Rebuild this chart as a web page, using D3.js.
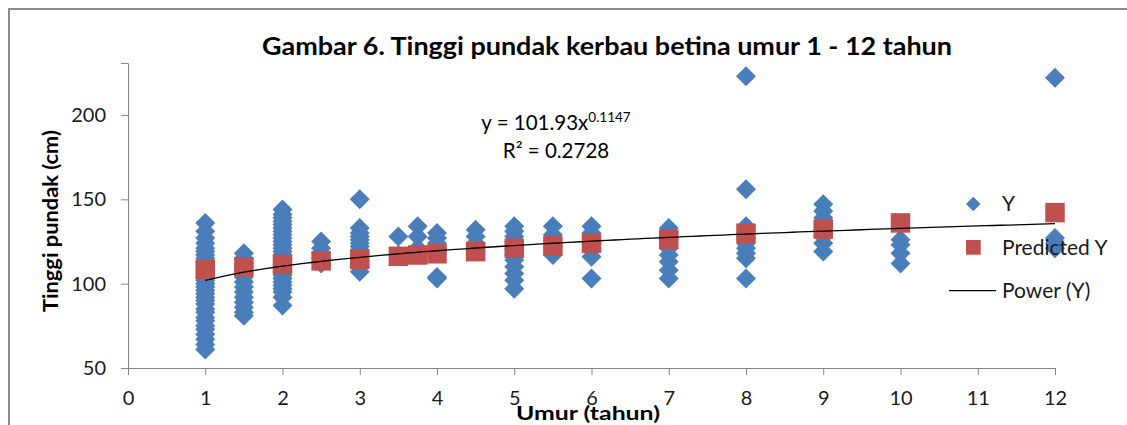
<!DOCTYPE html>
<html>
<head>
<meta charset="utf-8">
<script src="https://cdn.jsdelivr.net/npm/d3@7/dist/d3.min.js"></script>
<style>
  html, body { margin: 0; padding: 0; background: #fff; }
  svg { display: block; font-family: Lato, "Open Sans", sans-serif; }
</style>
</head>
<body>
<svg id="chart" width="1127" height="425"></svg>
<script>
// ---- data ----
const ages = [1, 1.5, 2, 2.5, 3, 3.5, 3.75, 4, 4.5, 5, 5.5, 6, 7, 8, 9, 10, 12];
const observedY = [
  [136,131,127,124,121,119,117,115,113,110,108,106,104,102,100,98,96,94,92,90,88,85,83,80,78,75,73,70,67,64,61],
  [118,115,112,110,107,104,101,98,95,92,89,86,83,81],
  [144,141,139,137,135,133,131,129,127,125,123,121,119,117,115,113,111,109,107,105,103,101,99,97,95,92,87],
  [125,121,118,115,112],
  [150,133,130,128,126,124,122,120,118,116,113,110,107],
  [128,117],
  [134,128,121],
  [130,127,124,121,118,104,103],
  [132,128,124,119],
  [134,131,128,125,121,117,114,110,106,102,97],
  [134,129,122,117],
  [134,130,127,124,120,116,103],
  [133,130,126,121,117,113,108,103],
  [223,156,134,130,127,124,121,118,115,103],
  [147,143,139,132,128,124,119],
  [126,123,118,112],
  [222,127,124,121]
];
const predictedY = [108.5,110,111.4,113.5,114.5,116.2,117,117.7,119,121,122.4,124,126.3,129.9,132.4,136,142.1];
const trendA = 101.93, trendB = 0.1147;   // from the chart's equation label
const xTicks = [0,1,2,3,4,5,6,7,8,9,10,11,12];
const yTicks = [50,100,150,200];
const titleText = "Gambar 6. Tinggi pundak kerbau betina umur 1 - 12 tahun";
const xLabel = "Umur (tahun)";
const yLabel = "Tinggi pundak (cm)";
const legendLabels = ["Y", "Predicted Y", "Power (Y)"];

// ---- drawing ----
const svg = d3.select("#chart");
const blue = "#4A7EBB", red = "#C0504D", axisCol = "#868686";

const x = d3.scaleLinear().domain([0, 12]).range([128, 1055]);
const y = d3.scaleLinear().domain([50, 230.8]).range([368, 63]);

// frame
svg.append("rect").attr("x", 9).attr("y", 9).attr("width", 1140).attr("height", 440)
  .attr("fill", "none").attr("stroke", "#8c8c8c").attr("stroke-width", 2);

// axes
const xAxis = d3.axisBottom(x).tickValues(xTicks).tickSize(7).tickPadding(16).tickFormat(d3.format("d"));
const gx = svg.append("g").attr("transform", `translate(0,${y(50)})`).call(xAxis);
const yAxis = d3.axisLeft(y).tickValues(yTicks).tickSize(7).tickPadding(15).tickFormat(d3.format("d"));
const gy = svg.append("g").attr("transform", `translate(${x(0)},0)`).call(yAxis);
[gx, gy].forEach(g => {
  g.select(".domain").attr("stroke", axisCol);
  g.selectAll(".tick line").attr("stroke", axisCol);
  g.selectAll(".tick text").attr("fill", "#1a1a1a").style("font-size", "20px").style("font-family", "Lato");
});
gx.selectAll(".tick text").attr("dy", "0.71em");

// observed diamonds
const pts = [];
ages.forEach((a, i) => observedY[i].forEach(v => pts.push({a, v})));
const dh = 10;
const diamond = `M0,${-dh}L${dh},0L0,${dh}L${-dh},0Z`;
svg.append("g").selectAll("path").data(pts).join("path")
  .attr("d", diamond)
  .attr("transform", d => `translate(${x(d.a)},${y(d.v)})`)
  .attr("fill", blue);

// predicted squares
const sq = 19.5;
svg.append("g").selectAll("rect").data(ages.map((a, i) => ({a, v: predictedY[i]}))).join("rect")
  .attr("x", d => x(d.a) - sq / 2).attr("y", d => y(d.v) - sq / 2)
  .attr("width", sq).attr("height", sq).attr("fill", red);

// power trendline
const trendX = d3.range(1, 12.0001, 0.1);
const line = d3.line().x(d => x(d)).y(d => y(trendA * Math.pow(d, trendB)));
svg.append("path").datum(trendX).attr("d", line)
  .attr("fill", "none").attr("stroke", "#000").attr("stroke-width", 1.3);

// title
svg.append("text").attr("x", 607).attr("y", 55).attr("text-anchor", "middle")
  .style("font-size", "25px").style("font-weight", "bold")
  .attr("textLength", 690).attr("lengthAdjust", "spacingAndGlyphs")
  .text(titleText);

// axis titles
svg.append("text").attr("x", 588).attr("y", 420).attr("text-anchor", "middle")
  .style("font-size", "19px").style("font-weight", "bold")
  .attr("textLength", 144).attr("lengthAdjust", "spacingAndGlyphs")
  .text(xLabel);
svg.append("text").attr("transform", "translate(58,221) rotate(-90)").attr("text-anchor", "middle")
  .style("font-size", "21px").style("font-weight", "bold")
  .attr("textLength", 182).attr("lengthAdjust", "spacingAndGlyphs")
  .text(yLabel);

// equation
const eq = svg.append("text").attr("x", 556).attr("y", 129.5).attr("text-anchor", "middle")
  .style("font-size", "20.5px");
eq.append("tspan").text("y = 101.93x");
eq.append("tspan").attr("dy", -8).style("font-size", "13.5px").text("0.1147");
svg.append("text").attr("x", 556).attr("y", 157.7).attr("text-anchor", "middle")
  .style("font-size", "20.5px").text("R\u00B2 = 0.2728");

// legend
const lg = svg.append("g");
const lh = 7.3;
lg.append("path").attr("d", `M0,${-lh}L${lh},0L0,${lh}L${-lh},0Z`)
  .attr("transform", "translate(973.3,204)").attr("fill", blue);
lg.append("rect").attr("x", 966).attr("y", 240).attr("width", 14.7).attr("height", 14.7).attr("fill", red);
lg.append("line").attr("x1", 949).attr("x2", 996).attr("y1", 290.7).attr("y2", 290.7)
  .attr("stroke", "#000").attr("stroke-width", 1.3);
const lgY = [210.7, 255, 298];
legendLabels.forEach((t, i) => {
  lg.append("text").attr("x", 1002).attr("y", lgY[i]).style("font-size", "21px").attr("fill", "#1a1a1a").text(t);
});
</script>
</body>
</html>
